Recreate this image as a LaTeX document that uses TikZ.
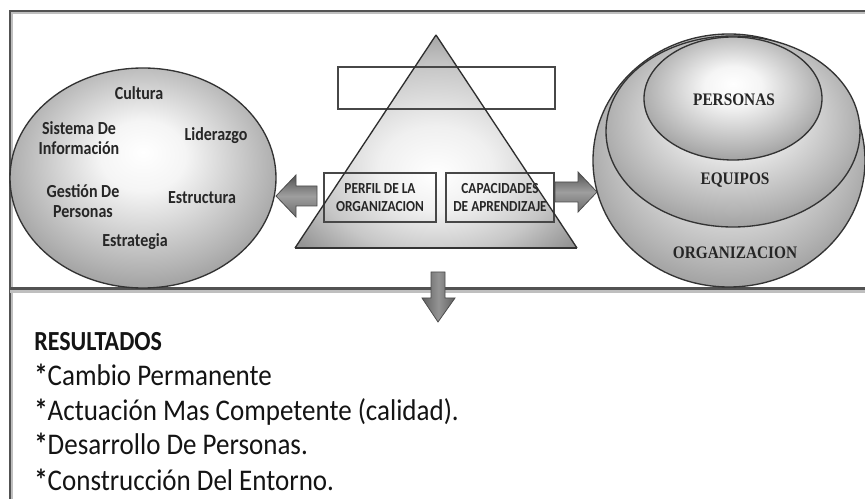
\documentclass[tikz,border=0pt]{standalone}
\usepackage{fontspec}
\setmainfont{Carlito}[FakeStretch=0.87]
\newfontfamily\tnr{Liberation Serif}[FakeStretch=0.87]
\newfontfamily\listfont{Carlito}[FakeStretch=0.9]
\usetikzlibrary{shadings}

% soft radial glow, brightest slightly above the centre
\pgfdeclareradialshading{orb}{\pgfpoint{0bp}{6bp}}{%
  color(0bp)=(white); color(8bp)=(white!96!black);
  color(24bp)=(white!70!black); color(32bp)=(white!56!black);
  color(50bp)=(white!52!black)}
% glow for the pyramid, brightest in its lower middle
\pgfdeclareradialshading{pyr}{\pgfpoint{0bp}{-8bp}}{%
  color(0bp)=(white); color(10bp)=(white!94!black);
  color(22bp)=(white!78!black); color(32bp)=(white!58!black);
  color(50bp)=(white!50!black)}

\begin{document}
\begin{tikzpicture}[x=0.75pt,y=-0.75pt,
  frameline/.style={draw=black!68, line width=1.7pt},
  frameshade/.style={draw=black!25, line width=1.7pt},
  rim/.style={draw=black!80, line width=1pt},
  lbl/.style={font=\fontsize{13.8pt}{15.5pt}\selectfont\bfseries, text=black!85,
    align=center, inner sep=0pt},
  ring/.style={font=\tnr\fontsize{13.2pt}{15pt}\selectfont\bfseries,
    text=black!85, inner sep=0pt},
  tag/.style={draw=black!72, line width=0.9pt,
    font=\fontsize{11.5pt}{13pt}\selectfont\bfseries, align=center,
    text=black!85, inner sep=0pt},
  blockarrow/.style={draw=black!70, line width=0.6pt, top color=black!68,
    bottom color=black!58, middle color=black!38},
  res/.style={anchor=base west, font=\listfont\fontsize{22.5pt}{25pt}\selectfont,
    text=black!92, inner sep=0pt}
]
\useasboundingbox (0,0) rectangle (865,499);
\fill[white] (0,0) rectangle (865,499);

% frame: top edge, left edge and the divider
\draw[frameshade] (866,13) -- (12,13) -- (12,499);
\draw[frameline] (866,11) -- (10,11) -- (10,499);
\draw[frameshade, line width=2.2pt] (10,291.5) -- (866,291.5);
\draw[frameline, line width=2.4pt] (10,288.5) -- (866,288.5);

% left ellipse of factors
\shade[shading=orb, rim] (143,178) ellipse [x radius=133, y radius=110];
\node[lbl] (cultura)    at (139,93)  {Cultura};
\node[lbl] (sistema)    at (79,138)  {Sistema De\\Información};
\node[lbl] (liderazgo)  at (216,136) {Liderazgo};
\node[lbl] (gestion)    at (83,201)  {Gestión De\\Personas};
\node[lbl] (estructura) at (202,198) {Estructura};
\node[lbl] (estrategia) at (135,242) {Estrategia};

% nested ellipses on the right
\shade[shading=orb, rim] (729,160.5) ellipse [x radius=136, y radius=126.5];
\shade[shading=orb, rim] (733,131.5) ellipse [x radius=127, y radius=95.5];
\shade[shading=orb, rim] (733,98.5) ellipse [x radius=89, y radius=61.5];
\node[ring] (personas) at (734,100) {PERSONAS};
\node[ring] (equipos)  at (735,180) {EQUIPOS};
\node[ring] (organiz)  at (735,253) {ORGANIZACION};

% pyramid
\coordinate (apex) at (436,35);
\coordinate (bl) at (295,248);
\coordinate (br) at (577,248);
\shade[shading=pyr] (apex) -- (br) -- (bl) -- cycle;

% boxes over the pyramid
\node[tag, minimum width=162.75pt, minimum height=31.5pt] (blank) at (446.5,88) {};
\node[tag, minimum width=84pt, minimum height=36.75pt] (perfil) at (380,197.5)
  {PERFIL DE LA\\ORGANIZACION};
\node[tag, minimum width=81pt, minimum height=36.75pt] (capac) at (500,197.5)
  {CAPACIDADES\\DE APRENDIZAJE};

% pyramid outline drawn on top of the boxes
\draw[draw=black!82, line width=1pt] (apex) -- (br);
\draw[draw=black!82, line width=1pt] (apex) -- (bl);
\draw[draw=black!80, line width=2pt] (bl) -- (br);

% block arrows
\shade[blockarrow] (317,186) -- (296,186) -- (296,175) -- (276,196)
  -- (296,217) -- (296,206) -- (317,206) -- cycle;
\shade[blockarrow] (555,182) -- (578,182) -- (578,172) -- (597,192)
  -- (578,212) -- (578,202) -- (555,202) -- cycle;
\shade[blockarrow, left color=black!62, right color=black!62, middle color=black!42]
  (431,272) -- (445,272) -- (445,298) -- (455,298) -- (438,322)
  -- (422,298) -- (431,298) -- cycle;

% results list
\node[res, font=\fontsize{20.7pt}{24pt}\selectfont\bfseries] (resultados) at (34,351) {RESULTADOS};
\node[res] (r1) at (34,386) {\textbf{*}Cambio Permanente};
\node[res] (r2) at (34,421) {\textbf{*}Actuación Mas Competente (calidad).};
\node[res] (r3) at (34,455) {\textbf{*}Desarrollo De Personas.};
\node[res] (r4) at (34,490) {\textbf{*}Construcción Del Entorno.};
\end{tikzpicture}
\end{document}
